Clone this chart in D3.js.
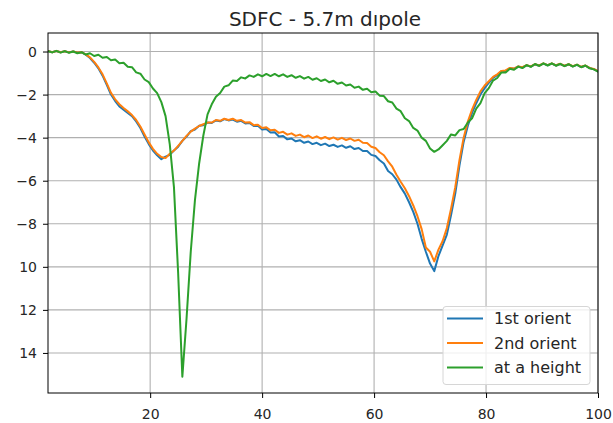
<!DOCTYPE html>
<html>
<head>
<meta charset="utf-8">
<script src="https://cdn.jsdelivr.net/npm/d3@7"></script>
<style>
  html, body { margin: 0; padding: 0; background: #fff; }
  svg { display: block; font-family: "DejaVu Sans", sans-serif; }
</style>
</head>
<body>
<svg id="chart" width="613" height="423"></svg>
<script>
// Sample grid: frequency points from 1.75 to 100 in steps of 0.75
const xStart = 1.75;
const xStep = 0.75;

const firstOrient = [
  0.02, -0.03, 0.02, -0.03, 0.01, -0.04, 0.0, -0.05, -0.04, -0.15,
  -0.3, -0.52, -0.78, -1.12, -1.55, -2.0, -2.3, -2.55, -2.7, -2.85,
  -3.0, -3.25, -3.55, -3.95, -4.3, -4.6, -4.82, -5.0, -4.88, -4.8,
  -4.6, -4.42, -4.15, -3.95, -3.7, -3.62, -3.45, -3.42, -3.3, -3.32,
  -3.2, -3.24, -3.14, -3.2, -3.16, -3.26, -3.22, -3.34, -3.32, -3.46,
  -3.45, -3.62, -3.6, -3.76, -3.75, -3.95, -3.92, -4.08, -4.04, -4.17,
  -4.12, -4.24, -4.18, -4.3, -4.24, -4.35, -4.28, -4.39, -4.33, -4.43,
  -4.36, -4.47, -4.4, -4.53, -4.48, -4.62, -4.62, -4.8, -4.85, -5.05,
  -5.2, -5.55, -5.7, -5.95, -6.3, -6.6, -7.0, -7.45, -8.0, -8.7,
  -9.3, -9.85, -10.2, -9.5, -9.0, -8.5, -7.6, -6.6, -5.3, -4.2,
  -3.45, -2.85, -2.4, -2.0, -1.7, -1.45, -1.22, -1.1, -0.92, -0.9,
  -0.78, -0.8, -0.7, -0.74, -0.64, -0.7, -0.6, -0.66, -0.56, -0.64,
  -0.56, -0.65, -0.58, -0.67, -0.6, -0.69, -0.62, -0.72, -0.66, -0.77,
  -0.82, -0.92
];

const secondOrient = [
  0.02, -0.03, 0.02, -0.03, 0.01, -0.04, 0.0, -0.04, -0.03, -0.13,
  -0.27, -0.48, -0.74, -1.06, -1.48, -1.92, -2.22, -2.45, -2.62, -2.78,
  -2.95, -3.18, -3.48, -3.85, -4.22, -4.52, -4.75, -4.9, -4.95, -4.75,
  -4.6, -4.38, -4.15, -3.92, -3.72, -3.58, -3.46, -3.38, -3.3, -3.3,
  -3.18, -3.22, -3.12, -3.18, -3.12, -3.22, -3.18, -3.3, -3.28, -3.42,
  -3.4, -3.55, -3.52, -3.66, -3.63, -3.78, -3.73, -3.86, -3.8, -3.92,
  -3.86, -3.98, -3.9, -4.02, -3.94, -4.05, -3.97, -4.07, -3.99, -4.09,
  -4.01, -4.11, -4.04, -4.15, -4.1, -4.24, -4.25, -4.42, -4.48, -4.68,
  -4.82, -5.1, -5.35, -5.72, -6.05, -6.35, -6.72, -7.15, -7.65, -8.25,
  -9.1, -9.3, -9.75, -9.2, -8.8, -8.2, -7.3, -6.3, -5.05, -4.0,
  -3.25, -2.7, -2.25, -1.85, -1.58, -1.38, -1.18, -1.06, -0.9, -0.88,
  -0.76, -0.79, -0.69, -0.73, -0.63, -0.69, -0.59, -0.65, -0.55, -0.63,
  -0.55, -0.64, -0.57, -0.66, -0.59, -0.68, -0.61, -0.71, -0.65, -0.76,
  -0.81, -0.91
];

const atHeight = [
  0.02, -0.04, 0.03, -0.05, 0.02, -0.06, 0.0, -0.08, -0.03, -0.14,
  -0.08, -0.21, -0.15, -0.29, -0.25, -0.41, -0.37, -0.54, -0.52, -0.71,
  -0.73, -0.97, -1.03, -1.3, -1.42, -1.72, -1.93, -2.35, -3.0, -4.3,
  -6.3, -10.3, -15.1, -12.4, -9.3, -6.9, -5.2, -3.9, -2.92, -2.45,
  -2.1, -1.93, -1.63, -1.57, -1.35, -1.37, -1.2, -1.25, -1.11, -1.18,
  -1.06, -1.15, -1.04, -1.14, -1.04, -1.15, -1.06, -1.18, -1.1, -1.22,
  -1.14, -1.26, -1.18, -1.31, -1.24, -1.37, -1.3, -1.43, -1.36, -1.5,
  -1.44, -1.58, -1.53, -1.68, -1.63, -1.78, -1.73, -1.89, -1.86, -2.05,
  -2.07, -2.31, -2.37, -2.65, -2.77, -3.1, -3.23, -3.55, -3.67, -4.0,
  -4.15, -4.5, -4.66, -4.55, -4.35, -4.15, -3.85, -3.9, -3.65, -3.6,
  -3.3, -3.1, -2.65, -2.4, -1.93, -1.7, -1.35, -1.23, -0.97, -0.97,
  -0.8, -0.85, -0.7, -0.77, -0.63, -0.71, -0.58, -0.67, -0.55, -0.65,
  -0.55, -0.66, -0.57, -0.68, -0.59, -0.7, -0.61, -0.73, -0.65, -0.78,
  -0.83, -0.93
];

const seriesNames = ["1st orient", "2nd orient", "at a height"];
const seriesColors = ["#1f77b4", "#ff7f0e", "#2ca02c"];
const xTickValues = [20, 40, 60, 80, 100];
const yTickValues = [0, -2, -4, -6, -8, -10, -12, -14];
const yTickLabels = ["0", "\u22122", "\u22124", "\u22126", "\u22128", "10", "12", "14"];
const titleText = "SDFC - 5.7m d\u0131pole";

const svg = d3.select("#chart");
const plot = { left: 48, top: 33, right: 598, bottom: 393 };

const x = d3.scaleLinear().domain([1.75, 100]).range([plot.left, plot.right]);
const y = d3.scaleLinear().domain([-15.86, 0.86]).range([plot.bottom, plot.top]);

const allSeries = [firstOrient, secondOrient, atHeight].map((vals, i) => ({
  name: seriesNames[i],
  color: seriesColors[i],
  points: vals.map((v, k) => [xStart + k * xStep, v])
}));

// grid
const grid = svg.append("g");
grid.selectAll("line.gx").data(xTickValues).join("line")
  .attr("x1", d => x(d)).attr("x2", d => x(d))
  .attr("y1", plot.top).attr("y2", plot.bottom)
  .attr("stroke", "#b0b0b0").attr("stroke-width", 1.1);
grid.selectAll("line.gy").data(yTickValues).join("line")
  .attr("x1", plot.left).attr("x2", plot.right)
  .attr("y1", d => y(d)).attr("y2", d => y(d))
  .attr("stroke", "#b0b0b0").attr("stroke-width", 1.1);

// clip
svg.append("clipPath").attr("id", "clip").append("rect")
  .attr("x", plot.left).attr("y", plot.top)
  .attr("width", plot.right - plot.left).attr("height", plot.bottom - plot.top);

const line = d3.line().x(d => x(d[0])).y(d => y(d[1]));
svg.append("g").attr("clip-path", "url(#clip)")
  .selectAll("path").data(allSeries).join("path")
  .attr("d", d => line(d.points))
  .attr("fill", "none")
  .attr("stroke", d => d.color)
  .attr("stroke-width", 2)
  .attr("stroke-linejoin", "round")
  .attr("stroke-linecap", "square");

// axes
const xAxis = d3.axisBottom(x).tickValues(xTickValues).tickSize(5).tickPadding(4);
const gx = svg.append("g").attr("transform", `translate(0,${plot.bottom})`).call(xAxis);
gx.select(".domain").remove();
gx.selectAll("line").attr("stroke", "#000").attr("stroke-width", 1);
gx.selectAll("text").attr("font-size", 14).attr("fill", "#262626")
  .attr("font-family", "DejaVu Sans").attr("dy", null).attr("y", 26);

const yAxis = d3.axisLeft(y).tickValues(yTickValues)
  .tickFormat((d, i) => yTickLabels[i]).tickSize(5).tickPadding(5);
const gy = svg.append("g").attr("transform", `translate(${plot.left},0)`).call(yAxis);
gy.select(".domain").remove();
gy.selectAll("line").attr("stroke", "#000").attr("stroke-width", 1);
gy.selectAll("text").attr("font-size", 14).attr("fill", "#262626")
  .attr("font-family", "DejaVu Sans").attr("x", -11).attr("dy", "0.36em");

// frame
svg.append("rect")
  .attr("x", plot.left).attr("y", plot.top)
  .attr("width", plot.right - plot.left).attr("height", plot.bottom - plot.top)
  .attr("fill", "none").attr("stroke", "#000").attr("stroke-width", 1);

// title
svg.append("text")
  .attr("x", (plot.left + plot.right) / 2 + 2).attr("y", 26)
  .attr("text-anchor", "middle")
  .attr("font-size", 20).attr("fill", "#262626")
  .text(titleText);

// legend
const legend = svg.append("g");
legend.append("rect")
  .attr("x", 443).attr("y", 306.5).attr("width", 147).attr("height", 78)
  .attr("rx", 3).attr("fill", "#fff").attr("fill-opacity", 0.8)
  .attr("stroke", "#d6d6d6").attr("stroke-width", 1);
const rows = legend.selectAll("g.row").data(allSeries).join("g")
  .attr("transform", (d, i) => `translate(0,${318.5 + i * 24.5})`);
rows.append("line")
  .attr("x1", 447).attr("x2", 483).attr("y1", 0).attr("y2", 0)
  .attr("stroke", d => d.color).attr("stroke-width", 2.2);
rows.append("text")
  .attr("x", 494).attr("y", 0).attr("dy", "0.36em")
  .attr("font-size", 16).attr("fill", "#262626")
  .text(d => d.name);
</script>
</body>
</html>
